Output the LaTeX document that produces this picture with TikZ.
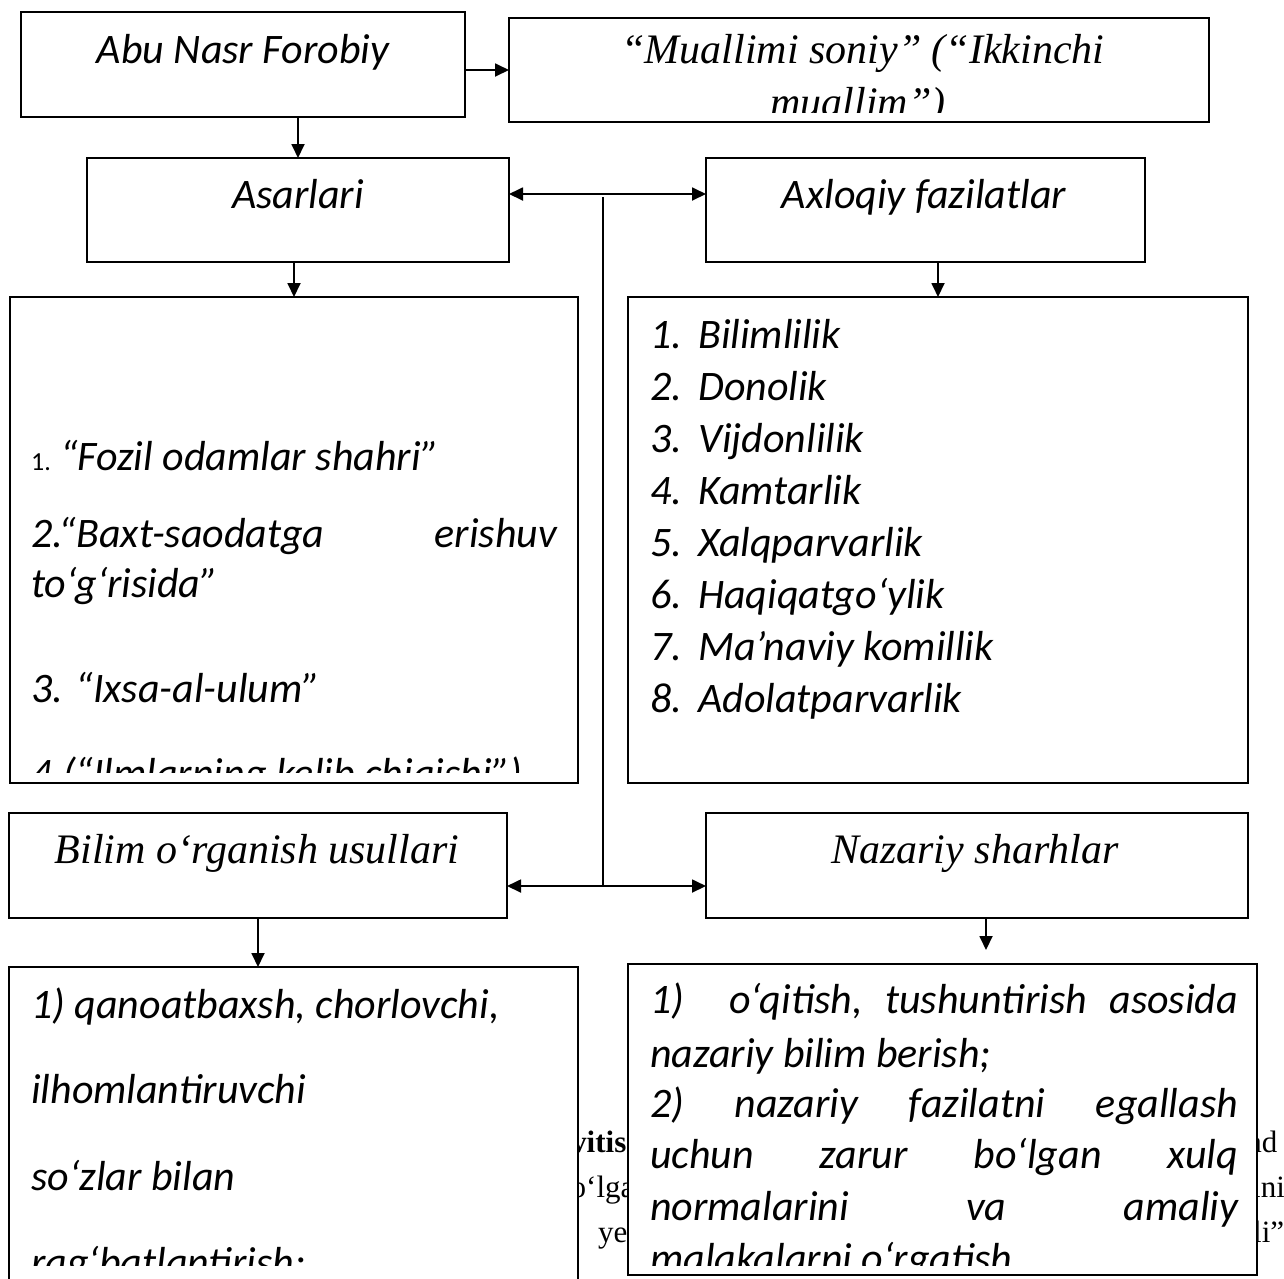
\documentclass[tikz,border=0pt]{standalone}
\usepackage{fontspec}
\setmainfont{Liberation Serif}
\newfontfamily\cfam{Carlito}
\newfontfamily\tfam{Liberation Serif}
\usetikzlibrary{arrows.meta}
\newcommand\calit{\cfam\itshape\fontsize{42pt}{50pt}\selectfont}
\newcommand\calsmall{\cfam\fontsize{26pt}{30pt}\selectfont}
\newcommand\serit{\tfam\itshape\fontsize{42pt}{50pt}\selectfont}
\newcommand\bodyrm{\tfam\fontsize{31pt}{37pt}\selectfont}
\begin{document}
\begin{tikzpicture}[x=1pt,y=-1pt,
  box/.style={draw, rectangle, line width=1.3pt, fill=white, inner sep=0pt, outer sep=0pt},
  arr/.style={line width=1.8pt, -{Triangle[length=14pt,width=13pt]}},
  link/.style={line width=1.6pt},
  ct/.style={inner sep=0pt, anchor=base, font=\calit},
  cl/.style={inner sep=0pt, anchor=base west, font=\calit},
  st/.style={inner sep=0pt, anchor=base, font=\serit},
  bg/.style={inner sep=0pt, anchor=base west, font=\bodyrm},
]
\useasboundingbox (0,0) rectangle (1284,1278);
\clip (0,0) rectangle (1284,1278);
\fill[white] (0,0) rectangle (1284,1278);

% running page text behind the lower boxes
\node[bg] (t1) at (571,1152) {\bfseries vitis};
\node[bg] (t2) at (555,1197) {bo‘lgan};
\node[bg] (t3) at (598,1242) {ye};
\node[bg] (t4) at (1248,1152) {ad};
\node[bg] (t5) at (1252,1197) {ini};
\node[bg] (t6) at (1253,1242) {li”};

% boxes
\node[box, minimum width=444pt, minimum height=105pt] (A)  at (243,64.5) {};
\node[box, minimum width=700pt, minimum height=104pt] (M)  at (859,70) {};
\node[box, minimum width=422pt, minimum height=104pt] (As) at (298,210) {};
\node[box, minimum width=439pt, minimum height=104pt] (Ax) at (925.5,210) {};
\node[box, minimum width=568pt, minimum height=486pt] (L1) at (294,540) {};
\node[box, minimum width=620pt, minimum height=486pt] (L2) at (938,540) {};
\node[box, minimum width=498pt, minimum height=105pt] (Bi) at (258,865.5) {};
\node[box, minimum width=542pt, minimum height=105pt] (Na) at (977,865.5) {};
\node[box, minimum width=569pt, minimum height=333pt] (B1) at (293.5,1133.5) {};
\node[box, minimum width=629pt, minimum height=311pt] (B2) at (942.5,1119.5) {};

% headings
\node[ct] (tA)  at (243,63)  {Abu Nasr Forobiy};
\node[ct] (tAs) at (298,208) {Asarlari};
\node[ct] (tAx) at (924,208) {Axloqiy fazilatlar};
\node[st] (tBi) at (257,863) {Bilim o‘rganish usullari};
\node[st] (tNa) at (975,863) {Nazariy sharhlar};

\begin{scope}
  \clip (509,18) rectangle (1209,112);
  \node[st] (tM1) at (863,63)  {“Muallimi soniy” (“Ikkinchi};
  \node[st] (tM2) at (858,116) {muallim”)};
\end{scope}

% works
\begin{scope}
  \clip (10,297) rectangle (578,772);
  \node[inner sep=0pt, anchor=base west, font=\calsmall] (w1n) at (31,470) {1.};
  \node[cl] (w1) at (60,470)  {“Fozil odamlar shahri”};
  \node[cl] (w2) at (31,547)  {\hbox to 526pt{2.“Baxt-saodatga\hfill erishuv}};
  \node[cl] (w2b) at (31,597) {to‘g‘risida”};
  \node[cl] (w3) at (31,702)  {3. “Ixsa-al-ulum”};
  \node[cl] (w4) at (31,787)  {4.(“Ilmlarning kelib chiqishi”)};
\end{scope}

% virtues
\foreach \n/\t [count=\k from 0] in {1/Bilimlilik,2/Donolik,3/Vijdonlilik,4/Kamtarlik,5/Xalqparvarlik,6/Haqiqatgo‘ylik,7/Ma’naviy komillik,8/Adolatparvarlik}{
  \node[cl] (vn\n) at (650,348+52*\k) {\n.};
  \node[cl] (v\n)  at (698,348+52*\k) {\t};
}

% methods
\begin{scope}
  \clip (9,967) rectangle (578,1265);
  \node[cl] (b1) at (31,1018) {1) qanoatbaxsh, chorlovchi,};
  \node[cl] (b2) at (31,1103) {ilhomlantiruvchi};
  \node[cl] (b3) at (31,1190) {so‘zlar bilan};
  \node[cl] (b4) at (31,1276) {rag‘batlantirish;};
\end{scope}

% theoretical comments
\begin{scope}
  \clip (628,964) rectangle (1257,1265);
  \node[cl] (n1) at (650,1013) {\hbox to 588pt{1)\hskip 0pt plus 2fill o‘qitish,\hfill tushuntirish\hfill asosida}};
  \node[cl] (n2) at (650,1067) {nazariy bilim berish;};
  \node[cl] (n3) at (650,1117) {\hbox to 588pt{2)\hfill nazariy\hfill fazilatni\hfill egallash}};
  \node[cl] (n4) at (650,1168) {\hbox to 588pt{uchun\hfill zarur\hfill bo‘lgan\hfill xulq}};
  \node[cl] (n5) at (650,1220) {\hbox to 588pt{normalarini\hfill va\hfill amaliy}};
  \node[cl] (n6) at (650,1272) {malakalarni o‘rgatish};
\end{scope}

% connectors
\coordinate (hubT) at (603,194);
\coordinate (hubB) at (603,886);
\coordinate (naTip) at (986,950);
\draw[arr] (A.east |- M.west) -- (M.west);
\draw[arr] (As.north |- A.south) -- (As.north);
\draw[link] ([yshift=-3pt]hubT) -- (hubB);
\draw[arr] (hubT) -- (hubT -| As.east);
\draw[arr] (hubT) -- (hubT -| Ax.west);
\draw[arr] (hubB) -- (hubB -| Bi.east);
\draw[arr] (hubB) -- (hubB -| Na.west);
\draw[arr] (L1.north |- As.south) -- (L1.north);
\draw[arr] (L2.north |- Ax.south) -- (L2.north);
\draw[arr] (Bi.south) -- (Bi.south |- B1.north);
\draw[arr] (naTip |- Na.south) -- (naTip);
\end{tikzpicture}
\end{document}
